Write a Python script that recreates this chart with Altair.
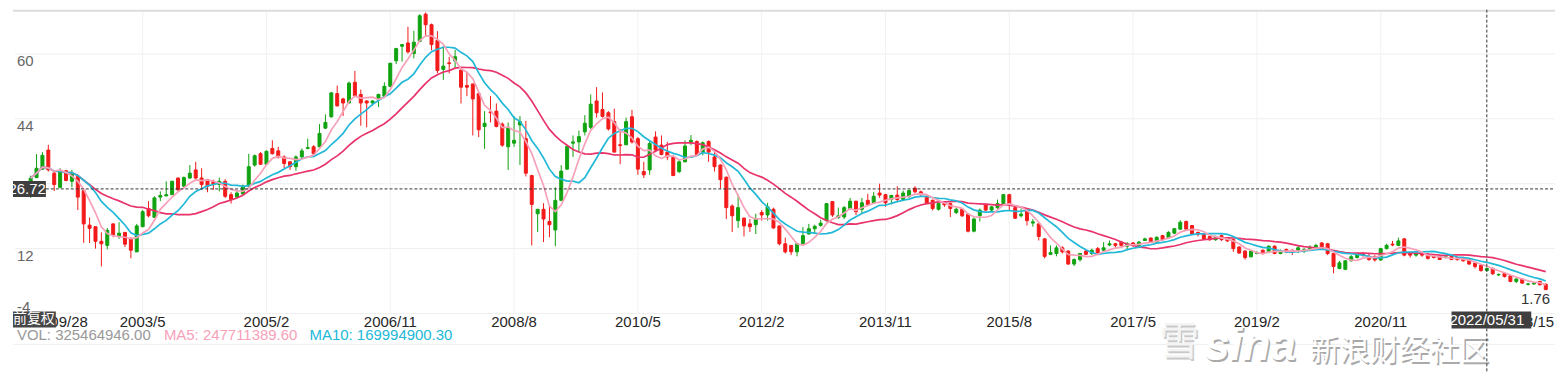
import altair as alt
import numpy as np
import pandas as pd

# ---- monthly candles, 2001/10 .. 2023/03 (index 0 .. 257) ----
opens = [
    27.1, 29.5, 31.6, 36.3, 30.6, 27.1, 31.2, 28.6, 29.8, 26.3,
    17.8, 17.4, 13.8, 12.8, 18.1, 15.2, 16.0, 14.4, 11.2, 17.4,
    21.9, 19.7, 24.7, 25.0, 25.3, 29.4, 27.4, 29.4, 31.4, 29.4,
    29.0, 28.6, 27.8, 28.6, 25.3, 24.7, 25.5, 27.4, 32.6, 35.4,
    32.8, 36.7, 36.1, 34.6, 33.4, 32.2, 34.6, 36.7, 37.1, 37.1,
    41.7, 44.5, 50.2, 48.9, 47.9, 53.0, 50.0, 48.4, 47.9, 48.8,
    49.6, 52.0, 58.3, 61.9, 62.7, 60.1, 63.1, 69.8, 67.2, 63.3,
    56.2, 57.8, 58.3, 56.0, 52.2, 52.6, 50.2, 42.1, 45.7, 45.9,
    42.7, 37.1, 38.0, 42.5, 39.1, 30.0, 20.6, 21.7, 18.7, 16.6,
    23.9, 31.6, 38.0, 38.3, 40.8, 41.9, 48.4, 46.3, 45.5, 43.3,
    37.6, 37.6, 44.5, 39.1, 31.0, 31.4, 39.5, 37.5, 35.8, 34.5,
    31.0, 33.4, 38.3, 38.4, 35.8, 38.4, 34.6, 32.6, 29.6, 22.5,
    18.9, 19.5, 18.1, 17.9, 20.9, 20.3, 21.7, 17.6, 13.2, 12.8,
    11.2, 13.2, 15.6, 16.9, 17.7, 18.9, 23.6, 19.7, 19.8, 21.9,
    23.7, 21.7, 23.9, 23.3, 25.7, 25.3, 24.1, 25.2, 24.1, 24.9,
    26.9, 26.0, 24.7, 23.9, 21.7, 23.3, 23.1, 20.9, 21.7, 20.5,
    16.3, 20.1, 22.9, 21.5, 22.1, 23.1, 25.3, 22.1, 20.1, 21.3,
    18.3, 18.1, 14.4, 10.6, 10.8, 12.2, 11.4, 8.2, 9.3, 11.4,
    10.8, 12.0, 11.6, 12.9, 13.2, 13.6, 12.6, 13.4, 12.8, 14.0,
    14.6, 13.6, 15.2, 14.7, 15.8, 16.8, 18.7, 17.7, 16.0, 15.5,
    15.0, 14.2, 15.2, 14.7, 14.2, 12.4, 11.4, 10.0, 10.8, 11.6,
    11.2, 12.6, 10.8, 11.8, 11.6, 11.6, 11.4, 12.0, 12.2, 13.4,
    13.2, 10.8, 7.1, 6.9, 9.0, 9.8, 10.8, 10.1, 10.0, 9.2,
    12.0, 13.1, 12.8, 14.4, 11.0, 10.4, 10.8, 10.6, 10.4, 10.1,
    9.8, 10.1, 9.8, 9.8, 9.3, 8.4, 7.9, 6.6, 7.1, 5.5,
    5.9, 5.3, 3.9, 4.5, 3.2, 3.3, 3.9, 3.2,
]
highs = [
    30.0, 35.3, 35.8, 37.6, 31.0, 31.8, 31.4, 31.4, 30.2, 26.5,
    19.7, 17.4, 16.0, 17.1, 18.2, 18.5, 16.0, 14.8, 18.1, 21.5,
    23.7, 24.9, 26.1, 28.6, 28.7, 29.5, 29.8, 32.6, 33.4, 31.8,
    29.2, 29.0, 29.5, 29.1, 25.9, 26.5, 27.8, 35.4, 35.2, 35.8,
    36.2, 38.7, 37.1, 35.0, 33.6, 35.0, 36.7, 39.1, 37.5, 42.7,
    45.1, 50.6, 52.2, 49.2, 53.2, 55.8, 51.2, 48.6, 48.6, 50.2,
    53.0, 57.8, 61.5, 62.3, 66.7, 65.7, 69.8, 70.2, 67.5, 65.6,
    61.9, 59.3, 61.0, 56.4, 55.6, 52.6, 50.2, 45.9, 49.6, 47.8,
    43.1, 43.1, 44.7, 44.7, 43.5, 30.2, 21.7, 23.2, 22.3, 27.1,
    32.6, 37.5, 39.9, 41.1, 44.9, 50.0, 51.8, 50.5, 45.9, 46.5,
    41.5, 44.3, 46.2, 39.5, 33.4, 38.7, 40.9, 39.9, 38.3, 35.0,
    33.8, 38.7, 40.0, 38.7, 38.4, 38.7, 35.8, 32.8, 29.8, 22.9,
    25.3, 19.7, 19.3, 20.6, 21.5, 23.3, 22.1, 17.6, 14.7, 12.8,
    13.4, 17.3, 18.1, 17.9, 19.1, 23.2, 23.7, 22.1, 22.5, 24.5,
    23.7, 24.5, 25.5, 26.0, 28.0, 25.5, 25.3, 27.4, 26.3, 26.5,
    27.4, 26.3, 25.3, 24.1, 23.3, 23.7, 23.3, 22.1, 21.9, 20.7,
    19.7, 21.9, 23.1, 22.5, 24.1, 25.5, 25.5, 22.3, 21.9, 21.5,
    19.3, 18.2, 14.6, 12.8, 12.8, 12.6, 11.6, 9.6, 10.9, 11.6,
    12.0, 12.4, 13.6, 14.0, 13.4, 13.9, 13.6, 13.6, 13.9, 14.7,
    14.8, 15.0, 15.4, 16.3, 17.1, 19.0, 18.9, 17.8, 16.2, 15.6,
    15.2, 15.2, 15.5, 14.8, 14.4, 12.6, 11.6, 11.6, 11.4, 11.8,
    12.8, 12.8, 11.8, 12.0, 11.8, 12.8, 12.2, 12.8, 13.2, 13.6,
    13.4, 10.9, 9.0, 9.1, 10.4, 10.8, 11.2, 10.8, 10.4, 12.2,
    13.2, 13.9, 14.7, 14.6, 11.2, 10.9, 10.9, 10.8, 10.6, 10.4,
    10.4, 10.4, 10.0, 10.0, 9.6, 8.5, 8.2, 7.4, 7.4, 5.9,
    6.1, 5.5, 4.7, 4.7, 3.5, 3.7, 4.1, 3.5,
]
lows = [
    24.5, 29.4, 31.4, 31.0, 26.2, 26.9, 28.6, 27.1, 21.5, 13.4,
    13.4, 12.0, 7.6, 11.8, 14.8, 14.4, 12.4, 9.6, 11.2, 17.3,
    19.7, 19.7, 23.7, 24.9, 25.2, 26.1, 27.1, 29.2, 28.9, 26.5,
    25.9, 26.5, 26.1, 24.5, 23.1, 24.7, 25.3, 27.1, 32.2, 32.6,
    32.6, 35.2, 34.2, 31.8, 31.4, 31.2, 34.4, 36.5, 35.2, 37.1,
    41.5, 44.3, 47.0, 44.7, 47.8, 49.6, 42.3, 41.9, 47.2, 46.9,
    49.4, 51.8, 57.5, 58.1, 60.1, 58.9, 62.9, 64.5, 60.9, 55.2,
    53.6, 55.2, 56.4, 47.8, 49.6, 39.9, 39.5, 36.6, 43.1, 41.9,
    37.1, 31.4, 37.1, 32.6, 29.8, 12.8, 16.1, 13.6, 14.8, 12.6,
    23.7, 31.4, 34.6, 35.8, 39.9, 41.5, 44.3, 44.3, 41.1, 35.7,
    32.8, 37.5, 37.9, 30.2, 29.4, 30.2, 35.8, 35.0, 33.8, 30.0,
    30.6, 33.3, 37.5, 35.0, 35.0, 33.4, 31.0, 26.8, 19.3, 16.1,
    17.1, 15.0, 16.1, 15.6, 18.9, 18.9, 16.9, 12.8, 10.8, 10.4,
    10.1, 13.1, 15.5, 15.8, 17.4, 18.7, 19.8, 19.3, 19.3, 21.7,
    20.3, 20.7, 22.7, 23.1, 24.5, 22.3, 22.9, 23.7, 23.7, 24.5,
    25.7, 24.9, 22.9, 21.4, 21.4, 22.3, 19.8, 20.5, 19.8, 16.0,
    16.0, 18.7, 21.3, 21.3, 21.7, 22.9, 21.4, 19.3, 19.7, 17.7,
    17.4, 14.0, 9.6, 10.4, 10.1, 10.8, 8.0, 7.7, 8.8, 10.4,
    10.4, 10.4, 11.2, 12.6, 12.2, 12.4, 11.6, 12.4, 12.6, 13.9,
    13.4, 13.4, 14.0, 14.4, 15.6, 16.6, 16.6, 15.5, 15.0, 14.2,
    13.9, 13.9, 13.9, 13.6, 11.2, 10.8, 9.3, 9.8, 10.6, 10.5,
    10.9, 10.6, 10.6, 10.9, 10.4, 10.9, 10.9, 11.6, 12.0, 12.0,
    10.4, 5.9, 6.9, 6.7, 8.8, 9.6, 10.0, 9.0, 8.8, 9.0,
    11.8, 12.6, 12.6, 10.1, 9.8, 10.0, 10.0, 9.3, 9.6, 9.2,
    9.6, 9.2, 9.0, 8.8, 8.0, 7.1, 6.3, 6.3, 5.5, 5.3,
    4.9, 3.7, 3.5, 3.3, 2.9, 3.1, 2.9, 1.76,
]
closes = [
    29.4, 31.8, 35.0, 31.4, 27.8, 31.0, 28.8, 30.6, 24.7, 18.1,
    17.0, 13.8, 13.2, 16.5, 15.4, 15.8, 13.1, 11.6, 17.6, 21.1,
    20.1, 24.5, 25.1, 25.3, 28.6, 26.5, 29.5, 30.6, 29.4, 27.8,
    27.4, 27.8, 28.6, 24.9, 24.1, 25.7, 27.4, 32.2, 34.9, 32.8,
    36.0, 35.4, 34.6, 33.0, 32.2, 34.6, 36.1, 36.9, 35.4, 40.4,
    43.1, 50.4, 47.2, 47.9, 52.8, 49.7, 47.9, 47.9, 48.4, 50.0,
    52.0, 57.7, 61.3, 62.3, 60.5, 62.9, 69.4, 67.2, 62.3, 55.9,
    57.0, 57.6, 59.3, 51.8, 51.8, 48.9, 41.3, 42.9, 45.5, 42.1,
    37.5, 41.9, 38.7, 43.3, 30.6, 22.9, 21.7, 19.3, 17.9, 23.9,
    31.1, 37.2, 38.3, 39.6, 42.9, 47.6, 45.5, 44.6, 41.5, 35.8,
    37.4, 43.3, 38.3, 31.6, 30.2, 37.9, 36.3, 35.2, 34.6, 30.0,
    33.4, 37.3, 38.7, 35.2, 38.1, 35.8, 32.2, 29.0, 22.1, 20.1,
    22.1, 17.6, 17.4, 19.4, 20.3, 22.3, 17.1, 13.2, 11.2, 11.2,
    13.2, 15.2, 16.9, 17.5, 18.3, 23.1, 20.3, 20.1, 22.1, 23.7,
    21.1, 23.3, 22.9, 24.9, 25.2, 23.3, 25.1, 24.1, 25.7, 26.3,
    26.0, 25.3, 23.2, 21.9, 23.1, 22.8, 21.9, 21.7, 20.1, 16.3,
    19.3, 21.5, 21.5, 22.3, 23.1, 25.3, 22.9, 19.5, 20.5, 18.9,
    18.6, 15.0, 10.1, 11.0, 12.2, 11.2, 8.2, 9.3, 10.8, 10.6,
    11.6, 10.9, 12.2, 13.2, 12.8, 12.8, 13.2, 12.8, 13.6, 14.4,
    13.6, 14.8, 14.2, 16.0, 16.9, 18.5, 16.8, 15.6, 15.5, 14.4,
    14.2, 15.0, 14.2, 13.9, 12.0, 10.9, 9.8, 11.4, 11.0, 10.8,
    12.6, 10.8, 11.4, 11.2, 11.2, 12.2, 11.8, 12.4, 12.8, 12.2,
    10.8, 7.6, 8.5, 9.0, 10.0, 10.4, 10.4, 9.3, 9.2, 12.0,
    12.8, 12.9, 13.9, 10.4, 10.4, 10.8, 10.4, 9.6, 9.8, 9.3,
    10.1, 9.3, 9.3, 9.0, 8.2, 7.6, 6.6, 7.1, 5.8, 5.6,
    5.1, 3.9, 4.5, 3.5, 3.3, 3.5, 3.1, 1.9,
]

# ---- axis ticks / labels ----
x_tick_idx = [19, 40, 61, 82, 103, 124, 145, 166, 187, 208, 229]
x_tick_lab = ["2003/5", "2005/2", "2006/11", "2008/8", "2010/5", "2012/2",
              "2013/11", "2015/8", "2017/5", "2019/2", "2020/11"]
first_date = "2001/09/28"
last_date = "2023/03/15"
grid_val = [60, 44, 28, 12, -4]
y_tick_val = [60, 44, 12]
y_tick_lab = ["60", "44", "12"]
y_bottom_val = [-4]
y_bottom_lab = ["-4"]
cross_idx = [247]
cross_date = ["2022/05/31"]
cross_val = [26.72]
cross_val_lab = ["26.72"]
min_lab = ["1.76"]
info_text = ["VOL: 325464946.00", "MA5: 247711389.60", "MA10: 169994900.30"]
wm_text = ["雪", "sina", "新浪财经社区"]

# ---- layout / style ----
W, H = 1548, 305
XD = [-2.15, 257.72]
YD = [-4.0, 70.9]
FONT = "Liberation Sans"
CJK = "Noto Sans CJK SC"
FS = 15
UP, DOWN = "#10a310", "#f31a1a"
C_MA5, C_MA10, C_MA20 = "#f7a1b9", "#22b8d8", "#e8336b"
TAG = "#3f3f3f"


def px(i):
    return (i - XD[0]) / (XD[1] - XD[0]) * W


def py(v):
    return (YD[1] - v) / (YD[1] - YD[0]) * H


xs = alt.Scale(domain=XD, nice=False, zero=False)
ys = alt.Scale(domain=YD, nice=False, zero=False)

df = pd.DataFrame({"i": np.arange(len(opens)), "o": opens, "h": highs, "l": lows, "c": closes})
df["dir"] = np.where(df["c"] >= df["o"], "up", "down")

X = alt.X("i:Q", scale=xs, axis=None)
dir_scale = alt.Scale(domain=["up", "down"], range=[UP, DOWN])

base = alt.Chart(df)
one = pd.DataFrame({"a": [0]})

# grid
hgrid = alt.Chart(pd.DataFrame({"v": grid_val})).mark_rule(
    color="#efefef", strokeWidth=1).encode(
    y=alt.Y("v:Q", scale=ys, axis=None), x=alt.value(2), x2=alt.value(W))
vgrid = alt.Chart(pd.DataFrame({"i": x_tick_idx})).mark_rule(
    color="#f2f2f2", strokeWidth=1).encode(x=X, y=alt.value(1), y2=alt.value(H))
topline = alt.Chart(one).mark_rule(color="#dddddd", strokeWidth=2).encode(
    x=alt.value(0), x2=alt.value(W), y=alt.value(1))

# candles
wicks = base.mark_rule(strokeWidth=1).encode(
    x=X, y=alt.Y("l:Q", scale=ys, axis=None), y2="h:Q",
    color=alt.Color("dir:N", scale=dir_scale, legend=None))
bodies = base.mark_bar(size=3, strokeWidth=1).encode(
    x=X, y=alt.Y("o:Q", scale=ys, axis=None), y2="c:Q",
    fill=alt.Fill("dir:N", scale=dir_scale, legend=None),
    stroke=alt.Stroke("dir:N", scale=dir_scale, legend=None))

# moving averages of the closes
ma = (base
      .transform_window(ma5="mean(c)", frame=[-4, 0], sort=[alt.SortField("i")])
      .transform_window(ma10="mean(c)", frame=[-9, 0], sort=[alt.SortField("i")])
      .transform_window(ma20="mean(c)", frame=[-19, 0], sort=[alt.SortField("i")]))
l20 = ma.mark_line(color=C_MA20, strokeWidth=1.7).encode(x=X, y=alt.Y("ma20:Q", scale=ys, axis=None))
l10 = ma.mark_line(color=C_MA10, strokeWidth=1.7).encode(x=X, y=alt.Y("ma10:Q", scale=ys, axis=None))
l5 = ma.mark_line(color=C_MA5, strokeWidth=1.7).encode(x=X, y=alt.Y("ma5:Q", scale=ys, axis=None))

# crosshair
cv = alt.Chart(pd.DataFrame({"i": cross_idx})).mark_rule(
    color="#333333", strokeWidth=1, strokeDash=[3, 2]).encode(x=X, y=alt.value(0), y2=alt.value(364))
ch = alt.Chart(pd.DataFrame({"v": cross_val})).mark_rule(
    color="#333333", strokeWidth=1, strokeDash=[3, 2]).encode(
    y=alt.Y("v:Q", scale=ys, axis=None), x=alt.value(33), x2=alt.value(W))

# y labels
ylab = alt.Chart(pd.DataFrame({"v": y_tick_val, "t": y_tick_lab})).mark_text(
    align="left", baseline="middle", dy=7, font=FONT, fontSize=FS, color="#666666").encode(
    x=alt.value(4), y=alt.Y("v:Q", scale=ys, axis=None), text="t:N")
ylab2 = alt.Chart(pd.DataFrame({"v": y_bottom_val, "t": y_bottom_lab})).mark_text(
    align="left", baseline="middle", dy=-7, font=FONT, fontSize=FS, color="#666666").encode(
    x=alt.value(4), y=alt.Y("v:Q", scale=ys, axis=None), text="t:N")

# x labels
XL_Y = 314
xlab = alt.Chart(pd.DataFrame({"i": x_tick_idx, "t": x_tick_lab})).mark_text(
    baseline="middle", font=FONT, fontSize=FS, color="#262626").encode(
    x=X, y=alt.value(XL_Y), text="t:N")
xfirst = alt.Chart(pd.DataFrame({"t": [first_date]})).mark_text(
    align="left", baseline="middle", font=FONT, fontSize=FS, color="#262626").encode(
    x=alt.value(0), y=alt.value(XL_Y), text="t:N")
xlast = alt.Chart(pd.DataFrame({"t": [last_date]})).mark_text(
    align="right", baseline="middle", font=FONT, fontSize=FS, color="#262626").encode(
    x=alt.value(W - 1), y=alt.value(XL_Y), text="t:N")

# tags
fq_box = alt.Chart(one).mark_rect(color="#474747").encode(
    x=alt.value(0), x2=alt.value(43), y=alt.value(303), y2=alt.value(319))
fq_txt = alt.Chart(pd.DataFrame({"t": ["前复权"]})).mark_text(
    align="left", baseline="middle", font=CJK, fontSize=14, color="white").encode(
    x=alt.value(0), y=alt.value(311), text="t:N")

cyv = py(cross_val[0])
yv_box = alt.Chart(one).mark_rect(color=TAG).encode(
    x=alt.value(0), x2=alt.value(33), y=alt.value(cyv - 8), y2=alt.value(cyv + 8))
yv_txt = alt.Chart(pd.DataFrame({"v": cross_val, "t": cross_val_lab})).mark_text(
    align="right", baseline="middle", font=FONT, fontSize=FS, color="white").encode(
    x=alt.value(33), y=alt.Y("v:Q", scale=ys, axis=None), text="t:N")

cxd = px(cross_idx[0])
xd_box = alt.Chart(one).mark_rect(color=TAG).encode(
    x=alt.value(cxd - 40), x2=alt.value(cxd + 40), y=alt.value(303), y2=alt.value(320))
xd_txt = alt.Chart(pd.DataFrame({"i": cross_idx, "t": cross_date})).mark_text(
    baseline="middle", font=FONT, fontSize=FS, color="white").encode(
    x=X, y=alt.value(312), text="t:N")

minlab = alt.Chart(pd.DataFrame({"t": min_lab})).mark_text(
    align="right", baseline="middle", font=FONT, fontSize=FS, color="#333333").encode(
    x=alt.value(1543), y=alt.value(290), text="t:N")

# info row
info = alt.Chart(pd.DataFrame({"t": info_text, "x": [4, 151.5, 297.7],
                               "col": ["#999999", C_MA5, C_MA10]})).mark_text(
    align="left", baseline="middle", font=FONT, fontSize=FS).encode(
    x=alt.X("x:Q", scale=None, axis=None), y=alt.value(327), text="t:N",
    color=alt.Color("col:N", scale=None))
sep = alt.Chart(one).mark_rule(color="#eeeeee", strokeWidth=1).encode(
    x=alt.value(0), x2=alt.value(W), y=alt.value(336))

# watermark (white glyphs with grey drop shadow)
wm_df = pd.DataFrame({"t": wm_text, "x": [1151, 1196, 1302], "y": [335, 338, 343]})


def wm_layer(k, size, font, dxy, fill, weight="normal", style="normal"):
    return alt.Chart(wm_df.iloc[[k]]).mark_text(
        align="left", baseline="middle", font=font, fontSize=size, fontWeight=weight,
        fontStyle=style, fill=fill, dx=dxy, dy=dxy).encode(
        x=alt.X("x:Q", scale=None, axis=None), y=alt.Y("y:Q", scale=None, axis=None), text="t:N")


wm = [
    wm_layer(0, 40, CJK, 1.5, "#c9c9c9"), wm_layer(0, 40, CJK, 0, "#f4f4f4"),
    wm_layer(1, 46, FONT, 1.5, "#a9a9a9", "bold", "italic"),
    wm_layer(1, 46, FONT, 0, "#ffffff", "bold", "italic"),
    wm_layer(2, 30, CJK, 1.5, "#a9a9a9"), wm_layer(2, 30, CJK, 0, "#ffffff"),
]

chart = alt.layer(
    hgrid, vgrid, topline, wicks, bodies, l20, l10, l5, sep, *wm,
    cv, ch, ylab, ylab2, xlab, xfirst, xlast, fq_box, fq_txt,
    yv_box, yv_txt, xd_box, xd_txt, minlab, info,
).properties(width=W, height=H, padding=0, background="white").configure_view(stroke=None)

chart.save("out.html", embed_options={"renderer": "svg", "actions": False})
